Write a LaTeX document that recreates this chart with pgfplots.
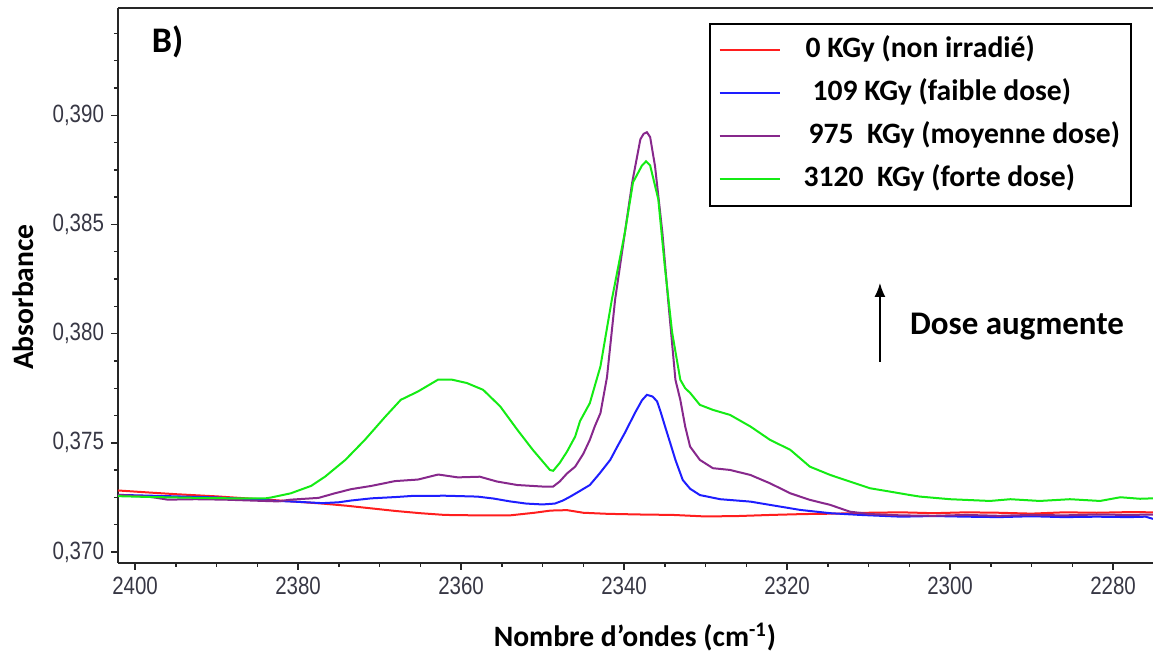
\documentclass[border=0pt]{standalone}
\usepackage{pgfplots}
\pgfplotsset{compat=1.18}
\usepackage{fontspec}
\setmainfont{Carlito}
\newfontfamily\narrowfont[FakeStretch=0.82]{Liberation Sans}
\usetikzlibrary{arrows.meta}
\definecolor{cRed}{RGB}{255,30,30}
\definecolor{cBlue}{RGB}{30,30,255}
\definecolor{cPurple}{RGB}{135,40,140}
\definecolor{cGreen}{RGB}{20,235,20}
\definecolor{tickc}{RGB}{55,55,68}
\begin{document}
\begin{tikzpicture}
\begin{axis}[
  name=ax,
  scale only axis,
  width=517.5pt, height=277.5pt,
  x dir=reverse,
  xmin=2275.1, xmax=2402.1,
  ymin=0.3695, ymax=0.39491,
  axis x line*=box, axis y line*=left,
  axis line style={line width=1pt, black!85},
  xtick={2280,2300,...,2400},
  minor x tick num=3,
  ytick={0.370,0.375,0.380,0.385,0.390},
  minor ytick={0.37125,0.3725,0.37375,0.37625,0.3775,0.37875,0.38125,0.3825,0.38375,0.38625,0.3875,0.38875,0.39125,0.3925,0.39375},
  xtick pos=lower, ytick pos=left,
  tick align=outside,
  major tick length=3.5pt, minor tick length=2pt,
  tick style={line width=0.7pt, black!85},
  /pgf/number format/assume math mode=true,
  xticklabel style={font=\narrowfont\fontsize{12.5}{14}\selectfont, color=tickc, /pgf/number format/1000 sep={}},
  yticklabel style={font=\narrowfont\fontsize{12.5}{14}\selectfont, color=tickc, /pgf/number format/.cd, fixed, fixed zerofill, precision=3, use comma},
  xlabel={Nombre d’ondes (cm\textsuperscript{-1})},
  ylabel={Absorbance},
  label style={font=\bfseries\fontsize{14.8}{17}\selectfont},
  xlabel style={at={(axis description cs:0.4995,-0.1333)}, anchor=center},
  ylabel style={at={(axis description cs:-0.0918,0.479)}, anchor=center},
  legend style={at={(axis description cs:0.9797,0.973)}, anchor=north east,
    draw=black, line width=1pt, inner xsep=4.5pt, inner ysep=2.5pt,
    font=\bfseries\fontsize{14.8}{17}\selectfont,
    nodes={inner sep=1pt, text height=13.5pt, text depth=6pt},
    /tikz/every odd column/.append style={column sep=10.5pt}},
  legend cell align=left,
  legend image code/.code={\path[draw=none, fill=none] (0pt,-3pt) -- (0pt,9pt); \draw[#1, line width=1pt] (0pt,0pt) -- (30pt,0pt);},
  every axis plot/.append style={line width=1pt},
]
\addplot[cRed] coordinates {
(2402.1,0.37282) (2398,0.37272) (2395,0.37265) (2390,0.37255) (2386,0.37245)
(2383,0.37238) (2380,0.37230) (2377,0.37222) (2374,0.37212) (2371,0.37200)
(2368,0.37188) (2365,0.37178) (2362,0.37170) (2358,0.37168) (2354,0.37168)
(2351,0.37180) (2349,0.37190) (2347,0.37192) (2345,0.37180) (2342,0.37175)
(2338,0.37172) (2334,0.37170) (2330,0.37163) (2326,0.37165) (2322,0.37170)
(2318,0.37174) (2314,0.37176) (2310,0.37180) (2306,0.37182) (2302,0.37178)
(2298,0.37182) (2294,0.37180) (2290,0.37176) (2286,0.37182) (2282,0.37180)
(2278,0.37183) (2275.1,0.37182)};
\addlegendentry{\hspace*{1pt}0 KGy (non irradié)}
\addplot[cBlue] coordinates {
(2402.1,0.37262) (2398,0.37258) (2395,0.37255) (2390,0.37250) (2386,0.37242)
(2383,0.37235) (2380,0.37230) (2377,0.37224) (2375,0.37228) (2373.5,0.37236)
(2371,0.37246) (2368,0.37252) (2366,0.37257) (2362,0.37258) (2358,0.37254)
(2356,0.37245) (2354,0.37232) (2352,0.37222) (2350,0.37218) (2348.5,0.37222)
(2347.5,0.37236) (2346.6,0.37254) (2345.5,0.37278) (2344.2,0.37307) (2343,0.37360)
(2341.7,0.37422) (2340.8,0.37485) (2339.9,0.37546) (2338.65,0.37638) (2337.8,0.37695)
(2337.2,0.37720) (2336.5,0.37712) (2335.95,0.37690) (2335.5,0.37640) (2334.97,0.37575)
(2334.3,0.37495) (2333.7,0.37422) (2332.8,0.37330) (2331.9,0.37290) (2330.7,0.37261)
(2328.2,0.37242) (2324.5,0.37231) (2322.1,0.37216) (2320,0.37203) (2318.4,0.37193)
(2314.7,0.37178) (2311,0.37170) (2306,0.37162) (2302,0.37165) (2298,0.37162)
(2294,0.37160) (2290,0.37164) (2286,0.37160) (2282,0.37162) (2278,0.37160)
(2276,0.37162) (2275.1,0.37152)};
\addlegendentry{\hspace*{4.5pt}109 KGy (faible dose)}
\addplot[cPurple] coordinates {
(2402.1,0.37262) (2398,0.37252) (2396,0.37240) (2392.6,0.37242) (2389,0.37240)
(2385,0.37235) (2382.5,0.37232) (2380.9,0.37240) (2377.5,0.37248) (2375.5,0.37269)
(2373.5,0.37288) (2371,0.37303) (2368.1,0.37325) (2365.3,0.37332) (2362.8,0.37355)
(2360.4,0.37342) (2357.7,0.37345) (2355.6,0.37323) (2353.1,0.37307) (2350,0.37300)
(2348.7,0.37300) (2347.9,0.37323) (2347,0.37360) (2346,0.37391) (2345,0.37450)
(2344.2,0.37514) (2343.6,0.37575) (2342.9,0.37636) (2342.1,0.37800) (2341.1,0.38156)
(2339.9,0.38463) (2339.0,0.38693) (2338.0,0.38890) (2337.6,0.38915) (2337.2,0.38922)
(2336.8,0.38900) (2336.2,0.38766) (2335.3,0.38463) (2334.6,0.38156) (2333.7,0.37789)
(2333.1,0.37697) (2332.5,0.37575) (2331.9,0.37483) (2330.7,0.37422) (2329.1,0.37384)
(2327,0.37376) (2324.5,0.37353) (2322.1,0.37315) (2319.6,0.37269) (2317.2,0.37239)
(2314.7,0.37216) (2312.3,0.37185) (2309.8,0.37174) (2306,0.37168) (2302,0.37166)
(2298,0.37170) (2294,0.37166) (2290,0.37170) (2286,0.37168) (2282,0.37172)
(2278,0.37170) (2275.1,0.37172)};
\addlegendentry{\hspace*{2.5pt}975~~KGy (moyenne dose)}
\addplot[cGreen] coordinates {
(2402.1,0.37256) (2398,0.37252) (2395,0.37250) (2392,0.37248) (2388,0.37246)
(2384,0.37246) (2383.3,0.37250) (2380.9,0.37269) (2378.4,0.37303) (2376.7,0.37345)
(2374.2,0.37422) (2371.8,0.37514) (2369.3,0.37620) (2367.4,0.37697) (2365.3,0.37735)
(2362.8,0.37790) (2361.2,0.37790) (2359.3,0.37774) (2357.3,0.37743) (2355.2,0.37667)
(2353.1,0.37560) (2351.2,0.37468) (2349.1,0.37376) (2348.7,0.37372) (2347.9,0.37408)
(2347.0,0.37460) (2346.0,0.37529) (2345.4,0.37600) (2344.2,0.37682) (2343.6,0.37760)
(2342.9,0.37850) (2341.5,0.38156) (2339.9,0.38463) (2338.9,0.38693) (2337.8,0.38770)
(2337.3,0.38789) (2336.8,0.38770) (2335.8,0.38615) (2335.0,0.38307) (2334.1,0.38005)
(2333.1,0.37789) (2332.5,0.37750) (2331.9,0.37729) (2330.7,0.37674) (2329.1,0.37651)
(2327.0,0.37628) (2324.5,0.37575) (2322.1,0.37514) (2319.6,0.37468) (2317.2,0.37391)
(2314.7,0.37353) (2312.3,0.37323) (2309.8,0.37292) (2307.4,0.37277) (2304.9,0.37261)
(2303.7,0.37254) (2300.0,0.37242) (2295.1,0.37234) (2292.6,0.37242) (2289.0,0.37234)
(2285.3,0.37242) (2281.6,0.37234) (2279.1,0.37251) (2276.7,0.37244) (2275.1,0.37246)};
\addlegendentry{3120~~KGy (forte dose)}
\node[anchor=base west, font=\bfseries\fontsize{18}{20}\selectfont] at (axis description cs:0.026,0.9207) {B)};
\node[anchor=base west, font=\bfseries\fontsize{16.5}{19}\selectfont] at (axis description cs:0.7585,0.4108) {Dose augmente};
\draw[line width=0.8pt, -{Latex[length=7pt,width=5.5pt]}] (axis description cs:0.7362,0.3622) -- (axis description cs:0.7362,0.5045);
\end{axis}
\pgfresetboundingbox
\path[use as bounding box] (-59pt,-47pt) rectangle (517.5pt,281.5pt);
\end{tikzpicture}
\end{document}
